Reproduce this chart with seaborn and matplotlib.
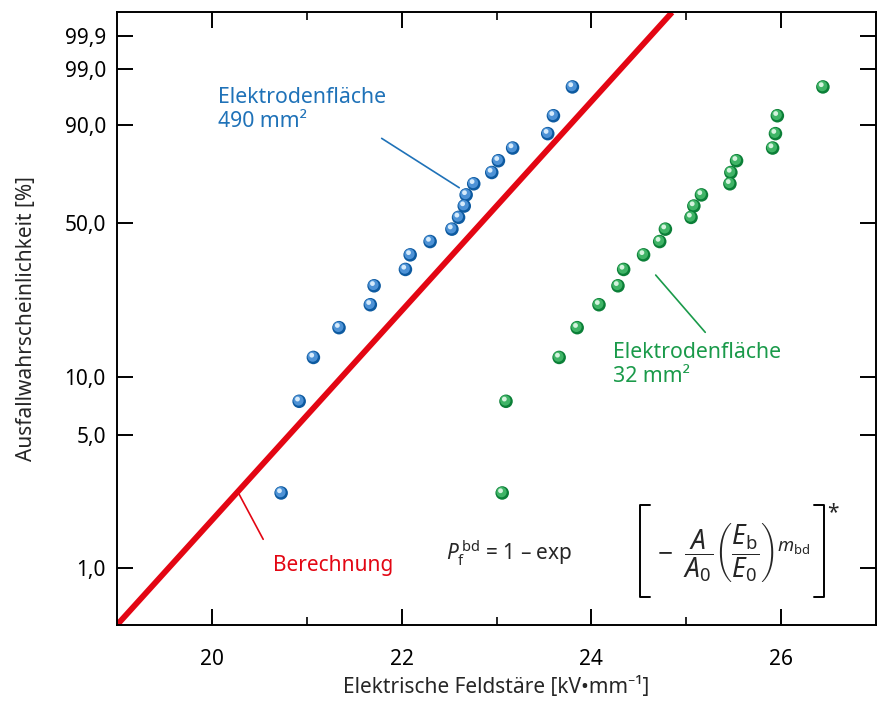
import numpy as np
import matplotlib
matplotlib.use('Agg')
import matplotlib.pyplot as plt
import matplotlib.ticker as mticker
from matplotlib.transforms import offset_copy
import seaborn as sns

# Ausfallwahrscheinlichkeit (Rang-Schätzung, n = 20) in %
prob = [2.5, 7.5, 12.5, 17.5, 22.5, 27.5, 32.5, 37.5, 42.5, 47.5,
        52.5, 57.5, 62.5, 67.5, 72.5, 77.5, 82.5, 87.5, 92.5, 97.5]

# Durchschlagfeldstärke in kV/mm
E_490 = [20.73, 20.92, 21.07, 21.34, 21.67, 21.71, 22.04, 22.09, 22.30, 22.53,
         22.60, 22.66, 22.68, 22.76, 22.95, 23.02, 23.17, 23.54, 23.60, 23.80]
E_32 = [23.06, 23.10, 23.66, 23.85, 24.08, 24.28, 24.34, 24.55, 24.72, 24.78,
        25.05, 25.08, 25.16, 25.46, 25.47, 25.53, 25.91, 25.94, 25.96, 26.44]

# Berechnung (Gerade im Weibull-Netz)
calc_E = [19.0, 24.85]
calc_P = [0.5, 99.99]

x_ticks = [20, 22, 24, 26]
x_minor = [21, 23, 25]
y_ticks = [1.0, 5.0, 10.0, 50.0, 90.0, 99.0, 99.9]
y_ticklabels = ['1,0', '5,0', '10,0', '50,0', '90,0', '99,0', '99,9']

BLUE = '#1f72b8'
GREEN = '#1a9a4a'
RED = '#e30613'

sns.set_style('ticks')
plt.rcParams['font.family'] = ['Noto Sans', 'DejaVu Sans']
plt.rcParams['mathtext.fontset'] = 'custom'
plt.rcParams['mathtext.rm'] = 'Noto Sans'
plt.rcParams['mathtext.it'] = 'Noto Sans:italic'
plt.rcParams['mathtext.bf'] = 'Noto Sans:bold'


def weib(p):
    p = np.clip(np.asarray(p, dtype=float), 1e-6, 100 - 1e-6) / 100.0
    return np.log(-np.log(1.0 - p))


def weib_inv(w):
    return 100.0 * (1.0 - np.exp(-np.exp(w)))


fig = plt.figure(figsize=(8.77, 7.05), dpi=100)
ax = fig.add_axes([0.1334, 0.1135, 0.8655, 0.869])
ax.set_yscale('function', functions=(weib, weib_inv))

# Berechnungsgerade
sns.lineplot(x=calc_E, y=calc_P, ax=ax, color=RED, lw=4.2, sort=False,
             solid_capstyle='butt', zorder=2)


def balls(x, y, dark, mid, light):
    # Kugeln: dunkler Grundkreis, hellerer Kern, Glanzpunkt
    sns.scatterplot(x=x, y=y, ax=ax, color=dark, s=95, edgecolor='none',
                    linewidth=0, zorder=3)
    t1 = offset_copy(ax.transData, fig=fig, x=-0.5, y=0.6, units='points')
    ax.scatter(x, y, s=55, color=mid, edgecolor='none', transform=t1, zorder=4)
    t2 = offset_copy(ax.transData, fig=fig, x=-1.2, y=1.6, units='points')
    ax.scatter(x, y, s=12, color=light, edgecolor='none', transform=t2, zorder=5)


balls(E_490, prob, '#0d5aa0', '#4d92d6', '#d6ebfb')
balls(E_32, prob, '#0b7f37', '#3fb466', '#d5f3de')

ax.set_xlim(19, 27)
ax.set_ylim(0.5, 99.99)

ax.xaxis.set_major_locator(mticker.FixedLocator(x_ticks))
ax.xaxis.set_minor_locator(mticker.FixedLocator(x_minor))
ax.yaxis.set_major_locator(mticker.FixedLocator(y_ticks))
ax.yaxis.set_minor_locator(mticker.NullLocator())
ax.set_yticklabels(y_ticklabels)
ax.set_xticklabels([str(t) for t in x_ticks])

for s in ax.spines.values():
    s.set_linewidth(1.4)
    s.set_color('black')
ax.tick_params(which='major', direction='in', length=11.5, width=1.4,
               top=True, right=True, labelsize=15, colors='black')
ax.tick_params(which='minor', direction='in', length=5.8, width=1.4,
               top=True, right=True)
ax.tick_params(axis='x', which='major', pad=17)
ax.tick_params(axis='y', which='major', pad=8)

ax.set_xlabel('Elektrische Feldstäre [kV•mm⁻¹]', fontsize=15)
ax.set_ylabel('Ausfallwahrscheinlichkeit [%]', fontsize=15)
ax.xaxis.set_label_coords(0.5, -0.085)
ax.yaxis.set_label_coords(-0.106, 0.5)

# Beschriftungen
ax.text(0.133, 0.878, 'Elektrodenfläche\n490 mm²', transform=ax.transAxes,
        color=BLUE, fontsize=15.3, va='top', ha='left', linespacing=1.2)
ax.plot([0.3487, 0.4509], [0.7943, 0.7137], transform=ax.transAxes,
        color=BLUE, lw=1.2)

ax.text(0.654, 0.462, 'Elektrodenfläche\n32 mm²', transform=ax.transAxes,
        color=GREEN, fontsize=15.3, va='top', ha='left', linespacing=1.2)
ax.plot([0.7097, 0.775], [0.5712, 0.4777], transform=ax.transAxes,
        color=GREEN, lw=1.2)

ax.text(0.205, 0.114, 'Berechnung', transform=ax.transAxes,
        color=RED, fontsize=15, va='top', ha='left')
ax.plot([0.1598, 0.1926], [0.2159, 0.1399], transform=ax.transAxes,
        color=RED, lw=1.2)

# Formel
ax.text(0.434, 0.106, r'$P_{\mathrm{f}}^{\,\mathrm{bd}}$ = 1 – exp',
        transform=ax.transAxes, fontsize=15, va='baseline', ha='left')
ax.text(0.712, 0.118,
        r'$-\;\;\dfrac{A}{A_0}\left(\dfrac{E_{\mathrm{b}}}{E_0}\right)^{m_{\mathrm{bd}}}$',
        transform=ax.transAxes, fontsize=19, va='center', ha='left')
# eckige Klammern
ax.plot([0.702, 0.689, 0.689, 0.702], [0.196, 0.196, 0.045, 0.045],
        transform=ax.transAxes, color='black', lw=1.4)
ax.plot([0.9183, 0.9315, 0.9315, 0.9183], [0.196, 0.196, 0.045, 0.045],
        transform=ax.transAxes, color='black', lw=1.4)
ax.text(0.936, 0.200, '*', transform=ax.transAxes, fontsize=15,
        va='top', ha='left')

plt.savefig('out.png', dpi=100)
